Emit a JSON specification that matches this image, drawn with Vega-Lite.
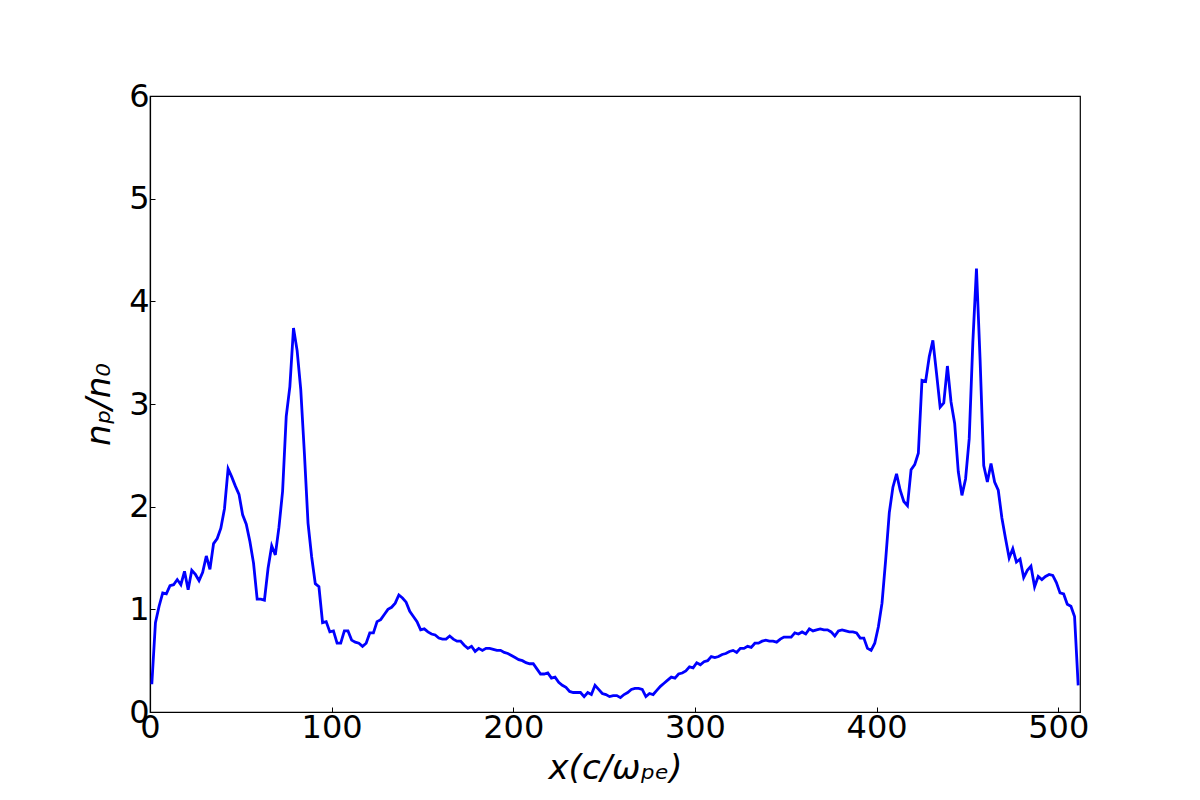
{
  "$schema": "https://vega.github.io/schema/vega-lite/v6.json",
  "width": 930,
  "height": 616,
  "autosize": {"type": "none"},
  "padding": {"left": 150, "top": 96, "right": 120, "bottom": 88},
  "background": "white",
  "config": {
    "view": {"stroke": "black", "strokeWidth": 1.2},
    "font": "DejaVu Sans",
    "axis": {
      "grid": false,
      "domainColor": "black",
      "domainWidth": 1.2,
      "tickColor": "black",
      "tickWidth": 1,
      "tickSize": -5,
      "labelFont": "DejaVu Sans",
      "labelFontSize": 32,
      "labelColor": "black",
      "titleFont": "DejaVu Sans",
      "titleFontSize": 34,
      "titleFontWeight": "normal",
      "titleFontStyle": "italic",
      "titleColor": "black"
    }
  },
  "data": {
    "values": [
      {"x": 1, "y": 0.27}, {"x": 3, "y": 0.87}, {"x": 5, "y": 1.03}, {"x": 7, "y": 1.16},
      {"x": 9, "y": 1.15}, {"x": 11, "y": 1.23}, {"x": 13, "y": 1.24}, {"x": 15, "y": 1.29},
      {"x": 17, "y": 1.24}, {"x": 19, "y": 1.37}, {"x": 21, "y": 1.19}, {"x": 23, "y": 1.38},
      {"x": 25, "y": 1.34}, {"x": 27, "y": 1.28}, {"x": 29, "y": 1.36}, {"x": 31, "y": 1.52},
      {"x": 33, "y": 1.39}, {"x": 35, "y": 1.64}, {"x": 37, "y": 1.69}, {"x": 39, "y": 1.79},
      {"x": 41, "y": 1.98}, {"x": 43, "y": 2.37}, {"x": 45, "y": 2.29}, {"x": 47, "y": 2.2},
      {"x": 49, "y": 2.12}, {"x": 51, "y": 1.92}, {"x": 53, "y": 1.83}, {"x": 55, "y": 1.66},
      {"x": 57, "y": 1.45}, {"x": 59, "y": 1.1}, {"x": 61, "y": 1.1}, {"x": 63, "y": 1.09},
      {"x": 65, "y": 1.4}, {"x": 67, "y": 1.62}, {"x": 69, "y": 1.53}, {"x": 71, "y": 1.8},
      {"x": 73, "y": 2.15}, {"x": 75, "y": 2.88}, {"x": 77, "y": 3.17}, {"x": 79, "y": 3.74},
      {"x": 81, "y": 3.52}, {"x": 83, "y": 3.14}, {"x": 85, "y": 2.52}, {"x": 87, "y": 1.84},
      {"x": 89, "y": 1.51}, {"x": 91, "y": 1.25}, {"x": 93, "y": 1.22}, {"x": 95, "y": 0.87},
      {"x": 97, "y": 0.88}, {"x": 99, "y": 0.78}, {"x": 101, "y": 0.79}, {"x": 103, "y": 0.67},
      {"x": 105, "y": 0.67}, {"x": 107, "y": 0.79}, {"x": 109, "y": 0.79}, {"x": 111, "y": 0.7},
      {"x": 113, "y": 0.68}, {"x": 115, "y": 0.67}, {"x": 117, "y": 0.64}, {"x": 119, "y": 0.67},
      {"x": 121, "y": 0.77}, {"x": 123, "y": 0.77}, {"x": 125, "y": 0.88}, {"x": 127, "y": 0.9},
      {"x": 129, "y": 0.95}, {"x": 131, "y": 1.0}, {"x": 133, "y": 1.02}, {"x": 135, "y": 1.06},
      {"x": 137, "y": 1.14}, {"x": 139, "y": 1.11}, {"x": 141, "y": 1.07}, {"x": 143, "y": 0.98},
      {"x": 145, "y": 0.93}, {"x": 147, "y": 0.88}, {"x": 149, "y": 0.8}, {"x": 151, "y": 0.81},
      {"x": 153, "y": 0.78}, {"x": 155, "y": 0.76}, {"x": 157, "y": 0.75}, {"x": 159, "y": 0.72},
      {"x": 161, "y": 0.71}, {"x": 163, "y": 0.71}, {"x": 165, "y": 0.74}, {"x": 167, "y": 0.71},
      {"x": 169, "y": 0.69}, {"x": 171, "y": 0.69}, {"x": 173, "y": 0.65}, {"x": 175, "y": 0.62},
      {"x": 177, "y": 0.64}, {"x": 179, "y": 0.59}, {"x": 181, "y": 0.62}, {"x": 183, "y": 0.6},
      {"x": 185, "y": 0.62}, {"x": 187, "y": 0.62}, {"x": 189, "y": 0.61}, {"x": 191, "y": 0.6},
      {"x": 193, "y": 0.6}, {"x": 195, "y": 0.58}, {"x": 197, "y": 0.57}, {"x": 199, "y": 0.55},
      {"x": 201, "y": 0.53}, {"x": 203, "y": 0.51}, {"x": 205, "y": 0.5}, {"x": 207, "y": 0.48},
      {"x": 209, "y": 0.47}, {"x": 211, "y": 0.47}, {"x": 213, "y": 0.42}, {"x": 215, "y": 0.37},
      {"x": 217, "y": 0.37}, {"x": 219, "y": 0.38}, {"x": 221, "y": 0.33}, {"x": 223, "y": 0.34},
      {"x": 225, "y": 0.29}, {"x": 227, "y": 0.26}, {"x": 229, "y": 0.24}, {"x": 231, "y": 0.2},
      {"x": 233, "y": 0.19}, {"x": 235, "y": 0.19}, {"x": 237, "y": 0.19}, {"x": 239, "y": 0.15},
      {"x": 241, "y": 0.19}, {"x": 243, "y": 0.17}, {"x": 245, "y": 0.26}, {"x": 247, "y": 0.22},
      {"x": 249, "y": 0.18}, {"x": 251, "y": 0.17}, {"x": 253, "y": 0.15}, {"x": 255, "y": 0.16},
      {"x": 257, "y": 0.16}, {"x": 259, "y": 0.14}, {"x": 261, "y": 0.17}, {"x": 263, "y": 0.19},
      {"x": 265, "y": 0.22}, {"x": 267, "y": 0.23}, {"x": 269, "y": 0.23}, {"x": 271, "y": 0.22},
      {"x": 273, "y": 0.15}, {"x": 275, "y": 0.18}, {"x": 277, "y": 0.17}, {"x": 279, "y": 0.21},
      {"x": 281, "y": 0.25}, {"x": 283, "y": 0.28}, {"x": 285, "y": 0.31}, {"x": 287, "y": 0.34},
      {"x": 289, "y": 0.33}, {"x": 291, "y": 0.37}, {"x": 293, "y": 0.38}, {"x": 295, "y": 0.4},
      {"x": 297, "y": 0.44}, {"x": 299, "y": 0.43}, {"x": 301, "y": 0.48}, {"x": 303, "y": 0.46},
      {"x": 305, "y": 0.49}, {"x": 307, "y": 0.5}, {"x": 309, "y": 0.54}, {"x": 311, "y": 0.53},
      {"x": 313, "y": 0.54}, {"x": 315, "y": 0.56}, {"x": 317, "y": 0.57}, {"x": 319, "y": 0.59},
      {"x": 321, "y": 0.6}, {"x": 323, "y": 0.58}, {"x": 325, "y": 0.62}, {"x": 327, "y": 0.62},
      {"x": 329, "y": 0.64}, {"x": 331, "y": 0.63}, {"x": 333, "y": 0.67}, {"x": 335, "y": 0.67},
      {"x": 337, "y": 0.69}, {"x": 339, "y": 0.7}, {"x": 341, "y": 0.69}, {"x": 343, "y": 0.69},
      {"x": 345, "y": 0.68}, {"x": 347, "y": 0.71}, {"x": 349, "y": 0.73}, {"x": 351, "y": 0.73},
      {"x": 353, "y": 0.73}, {"x": 355, "y": 0.77}, {"x": 357, "y": 0.76}, {"x": 359, "y": 0.78},
      {"x": 361, "y": 0.76}, {"x": 363, "y": 0.81}, {"x": 365, "y": 0.79}, {"x": 367, "y": 0.8},
      {"x": 369, "y": 0.81}, {"x": 371, "y": 0.8}, {"x": 373, "y": 0.8}, {"x": 375, "y": 0.78},
      {"x": 377, "y": 0.74}, {"x": 379, "y": 0.79}, {"x": 381, "y": 0.8}, {"x": 383, "y": 0.79},
      {"x": 385, "y": 0.78}, {"x": 387, "y": 0.78}, {"x": 389, "y": 0.77}, {"x": 391, "y": 0.72},
      {"x": 393, "y": 0.72}, {"x": 395, "y": 0.62}, {"x": 397, "y": 0.6}, {"x": 399, "y": 0.67},
      {"x": 401, "y": 0.83}, {"x": 403, "y": 1.06}, {"x": 405, "y": 1.48}, {"x": 407, "y": 1.94},
      {"x": 409, "y": 2.19}, {"x": 411, "y": 2.32}, {"x": 413, "y": 2.16}, {"x": 415, "y": 2.05},
      {"x": 417, "y": 2.01}, {"x": 419, "y": 2.36}, {"x": 421, "y": 2.41}, {"x": 423, "y": 2.52},
      {"x": 425, "y": 3.23}, {"x": 427, "y": 3.22}, {"x": 429, "y": 3.46}, {"x": 431, "y": 3.62},
      {"x": 433, "y": 3.3}, {"x": 435, "y": 2.97}, {"x": 437, "y": 3.01}, {"x": 439, "y": 3.37},
      {"x": 441, "y": 3.02}, {"x": 443, "y": 2.81}, {"x": 445, "y": 2.34}, {"x": 447, "y": 2.11},
      {"x": 449, "y": 2.27}, {"x": 451, "y": 2.66}, {"x": 453, "y": 3.6}, {"x": 455, "y": 4.32},
      {"x": 457, "y": 3.43}, {"x": 459, "y": 2.4}, {"x": 461, "y": 2.24}, {"x": 463, "y": 2.42},
      {"x": 465, "y": 2.24}, {"x": 467, "y": 2.16}, {"x": 469, "y": 1.89}, {"x": 471, "y": 1.69},
      {"x": 473, "y": 1.5}, {"x": 475, "y": 1.59}, {"x": 477, "y": 1.46}, {"x": 479, "y": 1.49},
      {"x": 481, "y": 1.31}, {"x": 483, "y": 1.38}, {"x": 485, "y": 1.42}, {"x": 487, "y": 1.22},
      {"x": 489, "y": 1.32}, {"x": 491, "y": 1.29}, {"x": 493, "y": 1.32}, {"x": 495, "y": 1.34},
      {"x": 497, "y": 1.33}, {"x": 499, "y": 1.26}, {"x": 501, "y": 1.16}, {"x": 503, "y": 1.15},
      {"x": 505, "y": 1.05}, {"x": 507, "y": 1.03}, {"x": 509, "y": 0.93}, {"x": 511, "y": 0.26}
    ]
  },
  "mark": {"type": "line", "color": "#0000ff", "strokeWidth": 2.8, "clip": true},
  "encoding": {
    "x": {
      "field": "x",
      "type": "quantitative",
      "scale": {"domain": [0, 512], "nice": false, "zero": false},
      "axis": {
        "title": "x(c/ωₚₑ)",
        "values": [0, 100, 200, 300, 400, 500],
        "labelPadding": 5,
        "titlePadding": 8,
        "labelFlush": false
      }
    },
    "y": {
      "field": "y",
      "type": "quantitative",
      "scale": {"domain": [0, 6], "nice": false},
      "axis": {
        "title": "nₚ/n₀",
        "values": [0, 1, 2, 3, 4, 5, 6],
        "labelPadding": 6,
        "titlePadding": 12,
        "labelFlush": false
      }
    }
  }
}
